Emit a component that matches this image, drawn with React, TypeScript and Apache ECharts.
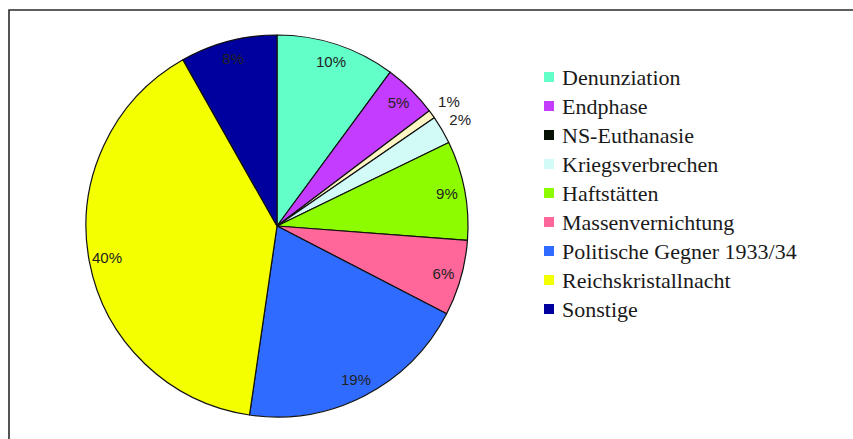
import React, { useEffect, useRef } from "react";
import * as echarts from "echarts";

const categories = [
  "Denunziation",
  "Endphase",
  "NS-Euthanasie",
  "Kriegsverbrechen",
  "Haftstätten",
  "Massenvernichtung",
  "Politische Gegner 1933/34",
  "Reichskristallnacht",
  "Sonstige",
];
const values = [10.1, 4.6, 0.7, 2.4, 8.4, 6.4, 19.7, 39.5, 8.2];
const percentLabels = ["10%", "5%", "1%", "2%", "9%", "6%", "19%", "40%", "8%"];
const outsideLabel = [false, false, true, true, false, false, false, false, false];
const sliceColors = ["#62ffc8", "#c43cff", "#fff6c4", "#d2fbf8", "#8efc00", "#ff6699", "#2f6bff", "#f4ff00", "#00009e"];
const legendColors = ["#62ffc8", "#c43cff", "#061206", "#d2fbf8", "#8efc00", "#ff6699", "#2f6bff", "#f4ff00", "#00009e"];

export default function App() {
  const ref = useRef<HTMLDivElement>(null);
  useEffect(() => {
    if (!ref.current) return;
    const chart = echarts.init(ref.current, null, { renderer: "svg" });
    const center = [277, 226];
    const labelFont = { fontFamily: "Liberation Sans", fontSize: 15, color: "#222" };
    chart.setOption({
      animation: false,
      backgroundColor: "#ffffff",
      graphic: [
        {
          type: "rect",
          shape: { x: 9, y: 10, width: 900, height: 500 },
          style: { fill: "none", stroke: "#2a2a2a", lineWidth: 1.6 },
          z: 0,
        },
      ],
      legend: {
        orient: "vertical",
        left: 539,
        top: 61,
        icon: "rect",
        itemWidth: 10,
        itemHeight: 10,
        itemGap: 7,
        selectedMode: false,
        itemStyle: { borderWidth: 0 },
        textStyle: {
          fontFamily: "Liberation Serif",
          fontSize: 22,
          lineHeight: 22,
          color: "#1a1a1a",
          padding: [0, 0, 0, 3],
        },
        data: categories.map((name, i) => ({
          name,
          itemStyle: { color: legendColors[i], borderWidth: 0 },
        })),
      },
      series: [
        {
          type: "pie",
          center,
          radius: [0, 191],
          startAngle: 90,
          clockwise: true,
          silent: true,
          label: { show: false },
          labelLine: { show: false },
          itemStyle: { borderColor: "#111", borderWidth: 1.2 },
          data: categories.map((name, i) => ({
            name,
            value: values[i],
            itemStyle: { color: sliceColors[i] },
          })),
        },
        {
          type: "pie",
          center,
          radius: [150, 190],
          startAngle: 90,
          silent: true,
          avoidLabelOverlap: false,
          labelLine: { show: false },
          itemStyle: { color: "transparent", borderWidth: 0 },
          label: {
            show: true,
            position: "inside",
            ...labelFont,
            formatter: (p: any) => percentLabels[p.dataIndex],
          },
          data: categories.map((name, i) => ({
            name,
            value: values[i],
            label: { show: !outsideLabel[i] },
          })),
        },
        {
          type: "pie",
          center,
          radius: [191, 227],
          startAngle: 90,
          silent: true,
          avoidLabelOverlap: false,
          labelLine: { show: false },
          itemStyle: { color: "transparent", borderWidth: 0 },
          label: {
            show: true,
            position: "inside",
            ...labelFont,
            formatter: (p: any) => percentLabels[p.dataIndex],
          },
          data: categories.map((name, i) => ({
            name,
            value: values[i],
            label: { show: outsideLabel[i] },
          })),
        },
      ],
    });
    return () => chart.dispose();
  }, []);
  return (
    <div
      ref={ref}
      style={{ position: "fixed", left: 0, top: 0, width: 853, height: 439 }}
    />
  );
}
